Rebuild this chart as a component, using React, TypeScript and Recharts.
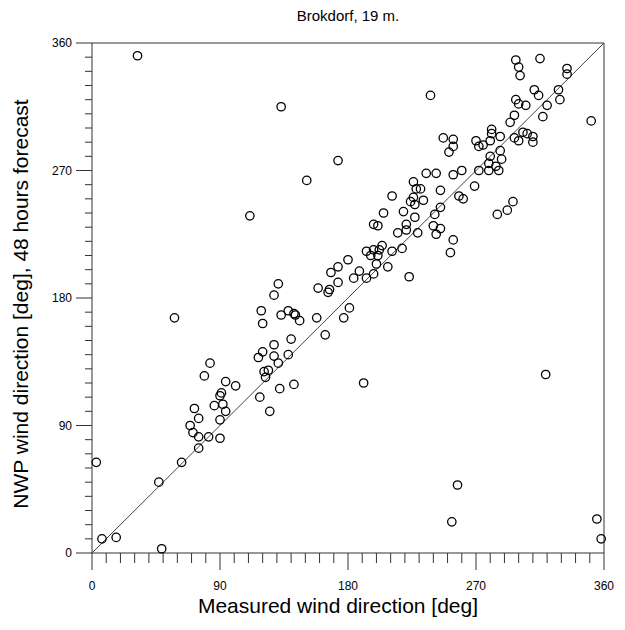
import React from 'react';
import { ScatterChart, Scatter, XAxis, YAxis, ReferenceLine } from 'recharts';

// measured direction (deg) and the 48h NWP forecast for the same hour
const measured = [
  32, 111, 133, 173, 151, 238, 235, 226, 228, 231, 211, 226, 233, 224, 227, 205, 219, 227,
  298, 315, 300, 301, 334, 334, 311, 314, 328, 329, 298, 300, 305, 320, 297, 317, 294, 351,
  281, 281, 247, 254, 254, 251, 270, 272, 275, 280, 287, 297, 300, 303, 306, 310, 310, 287,
  280, 288, 279, 284, 279, 286, 272, 260, 254, 242, 269, 245, 258, 261, 245, 241, 285, 292,
  296, 240, 245, 242, 254, 252, 319, 229, 198, 201, 221, 221, 215, 204, 193, 198, 202, 196,
  201, 211, 218, 200, 208, 198, 193, 223, 180, 173, 168, 188, 184, 173, 159, 167, 166, 131,
  128, 181, 177, 119, 120, 138, 133, 142, 143, 146, 158, 164, 128, 140, 120, 117, 128, 138,
  131, 121, 124, 122, 191, 58, 83, 79, 94, 101, 118, 72, 75, 69, 71, 75, 75, 82,
  86, 90, 91, 92, 94, 90, 90, 63, 3, 47, 7, 17, 49, 125, 132, 142, 257, 253,
  355, 358,
];
const forecast = [
  351, 238, 315, 277, 263, 323, 268, 262, 257, 257, 252, 251, 249, 248, 246, 240, 241, 237,
  348, 349, 343, 337, 342, 338, 327, 323, 327, 320, 320, 317, 316, 316, 309, 308, 304, 305,
  299, 296, 293, 292, 287, 283, 291, 287, 288, 291, 294, 293, 291, 297, 296, 294, 290, 284,
  280, 278, 275, 273, 270, 270, 270, 270, 267, 268, 259, 256, 252, 250, 244, 239, 239, 242,
  248, 231, 229, 225, 221, 212, 126, 226, 232, 231, 232, 228, 226, 217, 213, 214, 214, 210,
  210, 213, 215, 204, 202, 197, 194, 195, 207, 202, 198, 199, 194, 191, 187, 186, 184, 190,
  182, 173, 166, 171, 162, 171, 168, 169, 168, 164, 166, 154, 147, 151, 142, 138, 139, 140,
  134, 128, 129, 124, 120, 166, 134, 125, 121, 118, 110, 102, 95, 90, 85, 82, 74, 82,
  104, 111, 113, 105, 100, 94, 81, 64, 64, 50, 10, 11, 3, 100, 116, 119, 48, 22,
  24, 10,
];

const xTicks = Array.from({ length: 37 }, (_, i) => i * 10);
const majorTicks = [0, 90, 180, 270, 360];

const data = measured.map((m, i) => ({ x: m, y: forecast[i] }));

const FONT = '"Liberation Sans", Arial, sans-serif';
const AXIS = '#333';

const XTick = (props: any) => {
  const { x, y, payload } = props;
  const major = majorTicks.includes(payload.value);
  return (
    <g>
      <line x1={x} x2={x} y1={y} y2={y + (major ? 17 : 10)} stroke={AXIS} strokeWidth={1} />
      {major && (
        <text x={x} y={y + 37} textAnchor="middle" fontSize={12} fontFamily={FONT} fill="#000">
          {payload.value}
        </text>
      )}
    </g>
  );
};

const YTick = (props: any) => {
  const { x, y, payload } = props;
  const major = majorTicks.includes(payload.value);
  return (
    <g>
      <line x1={x - (major ? 16 : 7)} x2={x} y1={y} y2={y} stroke={AXIS} strokeWidth={1} />
      {major && (
        <text x={x - 20} y={y + 4} textAnchor="end" fontSize={12} fontFamily={FONT} fill="#000">
          {payload.value}
        </text>
      )}
    </g>
  );
};

const Ring = (props: any) => (
  <circle cx={props.cx} cy={props.cy} r={4.2} fill="none" stroke="#000" strokeWidth={1.3} />
);

export default function App() {
  return (
    <div style={{ position: 'absolute', left: 0, top: 0, width: 625, height: 630, background: '#fff', fontFamily: FONT }}>
      <div style={{ position: 'absolute', left: 92, width: 512, top: 7, textAlign: 'center', fontSize: 15 }}>
        Brokdorf, 19 m.
      </div>
      <div style={{ position: 'absolute', left: 82, width: 512, top: 594, textAlign: 'center', fontSize: 21 }}>
        Measured wind direction [deg]
      </div>
      <div style={{ position: 'absolute', left: 21, top: 304, width: 0, height: 0 }}>
        <div
          style={{
            position: 'absolute', whiteSpace: 'nowrap', fontSize: 21,
            transform: 'translate(-50%, -50%) rotate(-90deg)',
          }}
        >
          NWP wind direction [deg], 48 hours forecast
        </div>
      </div>
      <ScatterChart width={625} height={630} margin={{ top: 43, right: 21, bottom: 0, left: 0 }}>
        <XAxis
          type="number"
          dataKey="x"
          domain={[0, 360]}
          ticks={xTicks}
          interval={0}
          height={77}
          tickSize={0}
          tickMargin={0}
          tick={<XTick />}
          axisLine={{ stroke: AXIS }}
        />
        <YAxis
          type="number"
          dataKey="y"
          domain={[0, 360]}
          ticks={xTicks}
          interval={0}
          width={92}
          tickSize={0}
          tickMargin={0}
          tick={<YTick />}
          axisLine={{ stroke: AXIS }}
        />
        <ReferenceLine y={360} stroke={AXIS} />
        <ReferenceLine x={360} stroke={AXIS} />
        <ReferenceLine segment={[{ x: 0, y: 0 }, { x: 360, y: 360 }]} stroke="#444" />
        <Scatter data={data} shape={<Ring />} isAnimationActive={false} />
      </ScatterChart>
    </div>
  );
}
